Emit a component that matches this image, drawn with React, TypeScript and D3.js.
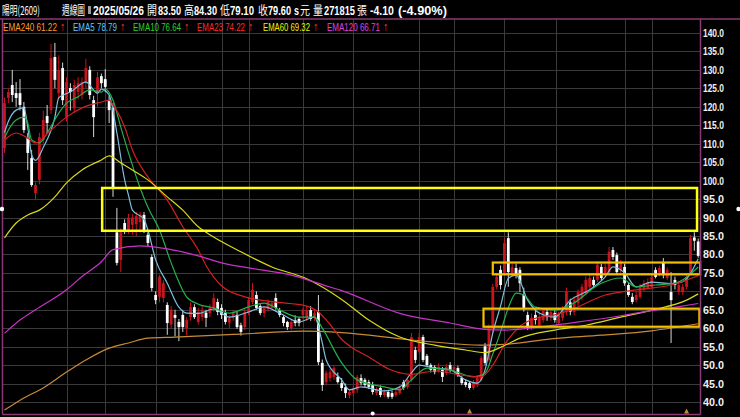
import React from 'react';
import * as d3 from 'd3';

// weekly candles, 陽明(2609)
const opens = [
  108.8, 122.4, 125.9, 123.7, 123.7, 120.0, 111.5, 106.1, 96.6, 100.2,
  111.0, 117.5, 119.1, 133.5, 123.7, 130.5, 117.2, 125.1, 119.6, 124.0,
  123.2, 126.7, 130.0, 121.8, 123.7, 128.3, 127.5, 121.8, 119.7, 86.0,
  78.5, 88.5, 86.6, 88.0, 88.2, 88.8, 90.7, 85.3, 79.3, 69.0,
  68.5, 68.2, 66.3, 61.0, 63.6, 61.7, 63.6, 60.0, 63.0, 65.7,
  61.7, 63.0, 64.2, 64.1, 65.5, 67.1, 65.5, 64.1, 61.5, 62.8,
  63.6, 60.8, 60.3, 64.1, 67.1, 69.0, 66.0, 64.1, 65.2, 65.5,
  68.2, 64.9, 63.0, 61.7, 60.0, 62.2, 62.5, 63.6, 62.8, 64.9,
  62.8, 64.4, 50.6, 45.4, 46.5, 46.8, 46.8, 45.1, 44.0, 41.9,
  42.4, 43.3, 46.5, 46.0, 45.4, 44.6, 42.4, 43.8, 41.9, 42.7,
  42.4, 41.9, 42.4, 45.4, 44.1, 46.0, 54.1, 53.6, 57.6, 52.5,
  50.0, 49.5, 48.4, 48.7, 47.9, 50.0, 48.7, 49.2, 46.5, 45.4,
  45.1, 43.8, 44.6, 46.0, 55.1, 51.4, 59.5, 71.2, 75.8, 75.0,
  84.4, 74.5, 76.3, 75.8, 69.0, 63.6, 60.3, 63.6, 60.8, 62.2,
  64.4, 62.8, 64.1, 61.4, 62.8, 64.4, 67.0, 64.4, 66.8, 68.2,
  69.5, 71.2, 73.1, 73.1, 76.6, 74.4, 75.2, 81.2, 79.8, 75.8,
  76.6, 71.7, 68.5, 67.6, 68.5, 70.4, 70.9, 71.2, 75.8, 74.4,
  77.7, 73.6, 69.8, 73.1, 69.8, 69.8, 71.2, 75.0, 84.6, 83.5
];
const highs = [
  122.5, 125.0, 130.0, 126.7, 127.5, 121.3, 112.9, 108.3, 99.5, 113.0,
  119.0, 120.5, 137.0, 137.3, 134.0, 132.0, 128.0, 126.4, 127.3, 128.0,
  128.0, 133.0, 131.0, 123.0, 129.5, 129.0, 130.2, 123.0, 121.0, 92.6,
  87.0, 89.5, 91.0, 91.0, 91.5, 91.5, 91.5, 86.0, 80.0, 70.0,
  74.5, 73.0, 67.0, 66.0, 65.0, 62.5, 65.0, 63.0, 67.0, 66.5,
  65.5, 66.0, 65.0, 66.5, 69.5, 68.0, 66.5, 65.0, 63.5, 65.0,
  64.5, 61.5, 65.5, 68.5, 72.2, 70.0, 66.5, 66.0, 67.8, 67.5,
  69.5, 65.5, 63.5, 62.0, 62.2, 63.5, 63.0, 65.5, 66.0, 66.0,
  65.0, 69.0, 51.5, 48.5, 49.0, 50.0, 48.0, 46.5, 45.0, 43.5,
  44.5, 47.3, 47.5, 46.5, 46.0, 45.5, 44.0, 44.5, 43.5, 43.3,
  43.0, 43.3, 44.5, 46.0, 46.5, 58.7, 55.0, 58.7, 58.2, 53.0,
  50.5, 50.0, 50.5, 49.5, 50.3, 50.8, 50.0, 49.8, 47.0, 46.0,
  45.6, 46.0, 47.0, 52.5, 56.0, 61.0, 72.0, 75.0, 77.0, 84.5,
  86.0, 77.5, 77.5, 76.5, 71.0, 64.5, 64.0, 65.0, 64.5, 65.5,
  65.5, 65.5, 65.0, 64.5, 66.0, 71.0, 68.0, 68.5, 70.5, 72.0,
  74.0, 74.5, 74.0, 78.0, 77.5, 77.5, 82.0, 82.0, 80.5, 78.5,
  77.5, 72.5, 69.5, 70.0, 72.0, 73.0, 73.5, 75.0, 76.5, 77.0,
  79.0, 76.5, 75.2, 74.0, 72.5, 72.0, 74.5, 85.3, 86.0, 84.3
];
const lows = [
  107.5, 121.0, 121.3, 120.0, 119.0, 112.9, 102.9, 98.3, 95.0, 99.0,
  110.0, 112.9, 118.0, 125.0, 122.0, 120.5, 116.0, 119.0, 118.5, 122.0,
  122.0, 125.0, 122.0, 111.8, 120.0, 125.0, 124.0, 115.6, 95.6, 77.0,
  75.2, 85.5, 85.5, 85.3, 85.0, 86.0, 85.8, 82.0, 70.0, 66.5,
  67.0, 67.0, 58.2, 60.0, 57.8, 56.5, 59.0, 58.0, 62.0, 62.5,
  61.0, 62.0, 60.3, 63.0, 64.5, 63.5, 62.5, 61.0, 60.0, 62.0,
  59.8, 58.0, 59.5, 63.5, 66.5, 65.0, 63.5, 63.0, 64.5, 65.0,
  65.0, 63.0, 60.5, 59.5, 59.5, 60.5, 60.5, 62.5, 62.0, 62.0,
  62.0, 50.0, 43.0, 44.5, 45.5, 46.0, 45.0, 43.0, 41.1, 41.0,
  41.5, 42.5, 44.5, 44.0, 43.5, 42.0, 41.8, 41.3, 41.3, 40.9,
  40.8, 41.3, 42.0, 43.3, 43.5, 45.5, 50.5, 53.0, 50.8, 49.5,
  48.0, 47.5, 48.0, 45.4, 47.3, 48.0, 48.0, 46.8, 44.6, 44.0,
  43.3, 43.3, 44.0, 45.5, 50.0, 51.0, 59.0, 70.5, 70.5, 74.5,
  71.2, 74.0, 73.5, 69.8, 64.5, 59.5, 59.5, 61.0, 60.0, 61.5,
  62.0, 62.0, 61.5, 61.0, 62.0, 63.5, 63.5, 63.5, 66.0, 67.5,
  69.0, 70.5, 71.0, 72.5, 73.0, 74.0, 74.5, 78.5, 74.5, 75.0,
  71.5, 68.5, 66.5, 67.0, 68.0, 70.0, 70.5, 70.8, 73.5, 74.0,
  73.5, 73.0, 56.0, 70.5, 69.0, 69.0, 70.5, 74.5, 81.0, 79.1
];
const closes = [
  121.0, 124.0, 123.2, 122.4, 120.5, 113.7, 107.5, 98.8, 98.8, 111.8,
  116.4, 115.6, 133.2, 127.3, 130.0, 121.8, 126.7, 124.0, 125.9, 126.4,
  126.7, 130.5, 123.2, 117.2, 128.0, 126.4, 125.4, 119.1, 98.0, 77.7,
  86.0, 86.6, 90.0, 90.0, 90.4, 90.7, 86.6, 83.1, 70.9, 67.6,
  74.0, 72.2, 61.4, 65.0, 62.8, 60.3, 60.3, 62.2, 65.7, 63.0,
  64.4, 65.0, 62.8, 65.7, 68.2, 64.4, 63.6, 61.7, 62.7, 64.1,
  60.3, 59.0, 64.4, 67.6, 70.4, 65.5, 64.1, 65.5, 67.1, 66.8,
  65.5, 63.6, 61.4, 60.3, 61.7, 61.4, 61.4, 64.9, 64.9, 62.5,
  64.1, 50.8, 44.6, 47.9, 48.1, 49.2, 45.4, 43.8, 42.4, 42.7,
  43.3, 46.8, 45.1, 44.6, 44.1, 42.7, 43.3, 41.9, 42.7, 41.4,
  41.4, 42.7, 43.8, 43.8, 46.0, 57.6, 51.4, 57.6, 51.4, 50.0,
  48.7, 48.1, 49.5, 46.8, 49.5, 48.7, 49.5, 47.3, 45.1, 44.6,
  43.8, 45.4, 46.5, 51.9, 50.6, 60.3, 71.2, 73.9, 71.7, 83.1,
  75.2, 76.5, 74.4, 72.2, 65.5, 60.3, 62.8, 62.2, 63.0, 64.9,
  63.0, 64.4, 62.2, 63.6, 64.9, 70.0, 64.5, 67.6, 69.8, 71.2,
  73.1, 73.6, 71.7, 77.2, 73.6, 76.6, 80.7, 79.3, 75.2, 77.9,
  72.2, 69.0, 67.1, 69.0, 71.2, 72.2, 72.5, 73.9, 73.9, 76.3,
  74.4, 75.8, 67.6, 71.7, 71.7, 71.2, 73.9, 84.4, 83.7, 79.6
];

// moving averages: [week, price]
const ema5: [number, number][] = [
  [0, 113], [1, 116], [3, 119.1], [5, 119.7], [6, 114.5], [7, 107], [8, 105.5], [10, 109],
  [13, 117.2], [14, 122.5], [17, 124], [21, 126.7], [24, 123.7], [25, 124.8], [27, 123.2],
  [29, 112.9], [31, 100.2], [32, 96], [33, 92], [36, 89.5], [37, 86.6], [39, 78.5],
  [42, 72.2], [45, 65.7], [47, 64.1], [50, 64], [54, 65.2], [58, 63], [63, 64.4],
  [67, 65.8], [71, 64.1], [76, 61.7], [80, 63], [82, 56], [83, 51.4], [87, 46],
  [89, 43.3], [92, 44.1], [98, 43], [102, 44.1], [105, 47.9], [107, 50], [111, 49.2],
  [115, 48.7], [119, 46], [122, 45.1], [124, 48.7], [126, 58.7], [128, 66], [130, 73.5],
  [132, 74.4], [135, 67.6], [138, 64.1], [142, 63], [146, 67.6], [151, 70.4], [155, 73.9],
  [157, 76.6], [160, 75], [163, 71.2], [167, 72.5], [172, 72.1], [175, 72.6], [179, 78.8]
];
const ema10: [number, number][] = [
  [0, 111.5], [1, 113.7], [3, 116.4], [5, 117.2], [6, 115.6], [7, 111], [9, 110.2],
  [11, 112.9], [14, 118.3], [16, 121], [19, 122.7], [22, 124.6], [25, 124], [26, 124.8],
  [28, 121.8], [30, 114.5], [32, 107.5], [35, 98], [37, 92.8], [40, 86.6], [43, 77.7],
  [47, 68.5], [50, 66.5], [54, 65.5], [58, 64.1], [63, 65.8], [67, 66.8], [71, 64.9],
  [76, 63], [80, 63], [82, 60], [87, 50.6], [91, 46], [98, 44.1], [102, 43.3],
  [105, 46], [109, 49.2], [115, 48.7], [121, 46.8], [124, 47.8], [126, 53], [128, 59],
  [130, 65.5], [132, 69.5], [134, 69], [137, 65.7], [142, 64.9], [146, 66.3], [154, 72.2],
  [159, 73.6], [163, 71.2], [168, 71.7], [173, 72.2], [179, 76.6]
];
const ema23: [number, number][] = [
  [0, 111], [3, 112.9], [6, 111.5], [8, 110.2], [12, 113.7], [16, 117.2], [20, 119.7],
  [25, 121.3], [27, 121.8], [28, 120.5], [31, 114.5], [33, 108.3], [37, 101], [42, 94.7],
  [46, 87.5], [50, 81.2], [52, 77], [56, 71.5], [62, 68.5], [69, 67.2], [78, 66],
  [81, 64.4], [84, 61], [87, 57], [90, 54.5], [94, 52.2], [99, 49], [105, 47.5],
  [111, 48.4], [118, 47.3], [123, 46.8], [126, 50], [129, 55.5], [133, 60.5], [137, 62.7],
  [142, 63.6], [146, 64.9], [155, 69], [163, 70.4], [172, 71.7], [179, 74.2]
];
const ema60: [number, number][] = [
  [0, 84.5], [3, 88.5], [6, 90.7], [9, 92], [13, 95.6], [16, 99.4], [20, 102.9],
  [25, 105.6], [27, 106.7], [30, 104.8], [33, 102.9], [37, 100.2], [42, 95.6], [46, 92],
  [50, 87.5], [52, 86], [61, 80.7], [69, 76.6], [78, 73.4], [87, 67.8], [94, 62.2],
  [102, 57.6], [111, 55.4], [119, 54.1], [124, 53.4], [129, 55.3], [133, 57.3],
  [142, 59.5], [150, 60.8], [159, 63], [167, 64.9], [176, 67.6], [179, 69.3]
];
const ema120: [number, number][] = [
  [0, 58.6], [4, 62.2], [8, 65], [16, 70.4], [20, 74], [25, 78], [28, 81.3], [35, 82.3],
  [42, 81.5], [50, 79.6], [56, 77.7], [65, 76], [74, 74.4], [82, 71.8], [87, 70.2],
  [102, 64], [115, 61.4], [124, 59.7], [129, 59.5], [138, 60.3], [146, 61.4],
  [155, 62.7], [163, 64.1], [172, 65.5], [179, 66.7]
];
const ema240: [number, number][] = [
  [0, 37.8], [5, 41.1], [10, 43.8], [16, 48.1], [21, 51.4], [27, 54.6], [32, 56],
  [37, 57.3], [44, 57.6], [55, 58.1], [61, 58.4], [77, 59.2], [87, 58.8], [105, 56.8],
  [124, 55.4], [129, 55.6], [141, 57.1], [154, 58.1], [167, 59.3], [179, 61.2]
];

const priceTicks = d3.range(40, 141, 5);
const gridWeeks = [16, 26, 39, 56, 63, 77, 90, 107, 116, 129, 142.3, 160, 167];

// highlighted zones: [first week, last week, top price, bottom price]
const zoneMain: [number, number, number, number] = [25.2, 178.7, 98, 86.4];
const zoneUpper: [number, number, number, number] = [126, 179.5, 77.8, 74.6];
const zoneLower: [number, number, number, number] = [123.6, 179.3, 65.3, 60.4];

const legendNames = ['EMA240', 'EMA5', 'EMA10', 'EMA23', 'EMA60', 'EMA120'];
const legendValues = ['61.22', '78.79', '76.64', '74.22', '69.32', '66.71'];

const headerTexts = [
  '陽明(2609)', '週線圖', '2025/05/26', '開', '83.50', '高', '84.30', '低', '79.10',
  '收', '79.60', 's', '元', '量', '271815', '張', '-4.10', '(-4.90%)'
];

const W = 740;
const H = 417;
const plot = { left: 2.5, right: 700.5, top: 19, bottom: 414.5 };

const UP = '#c8141c';
const DOWN = '#ffffff';
const lineColors = ['#c98a34', '#7cc0e0', '#22b04a', '#d02020', '#d8d81c', '#c832c8'];
const legendColors = ['#ff9a2a', '#5ec8f8', '#2ad22a', '#ff2a2a', '#f0f000', '#e040e0'];
const frame = '#8a3a72';
const gridColor = '#3a3a3a';

const cjk = '"Noto Sans CJK TC"';
const latin = '"Liberation Sans"';

// width of a string in a given css font, used to squeeze text to the reference's narrow face
let ctx: CanvasRenderingContext2D | null = null;
const measure = (t: string, font: string) => {
  if (!ctx) ctx = document.createElement('canvas').getContext('2d');
  if (!ctx) return t.length * 6;
  ctx.font = font;
  return ctx.measureText(t).width;
};

const Squeezed: React.FC<{
  text: string; x: number; y: number; width: number; size: number;
  family: string; bold?: boolean; fill: string;
}> = ({ text, x, y, width, size, family, bold, fill }) => {
  const natural = measure(text, `${bold ? 'bold ' : ''}${size}px ${family}`);
  const s = natural > 0 ? width / natural : 1;
  return (
    <text
      transform={`translate(${x},${y}) scale(${s},1)`}
      fontFamily={family}
      fontSize={size}
      fontWeight={bold ? 'bold' : 'normal'}
      fill={fill}
    >
      {text}
    </text>
  );
};

const App: React.FC = () => {
  const N = closes.length;
  const x = d3.scaleLinear().domain([0, N - 1]).range([4.5, 698.2]);
  const y = d3.scaleLinear().domain([40, 140]).range([402, 33]);
  const bodyW = 2.8;

  const line = d3.line<[number, number]>()
    .x(d => x(d[0]))
    .y(d => y(d[1]))
    .curve(d3.curveMonotoneX);

  const series = [ema240, ema5, ema10, ema23, ema60, ema120];

  const zone = (z: [number, number, number, number], color: string, w: number) => (
    <rect
      x={x(z[0])}
      y={y(z[2])}
      width={x(z[1]) - x(z[0])}
      height={y(z[3]) - y(z[2])}
      fill="none"
      stroke={color}
      strokeWidth={w}
    />
  );

  // header layout: x and width per piece
  const headerX = [2, 62, 93, 147, 158, 184, 194, 220, 230, 258, 268, 294, 300, 313, 324, 357, 370, 398];
  const headerW = [38, 23, 51, 10, 23, 10, 23, 10, 24, 10, 23, 5, 10, 10, 31, 10, 24, 49];

  const legendX = [3, 73, 133, 197, 263, 327];
  const legendW = [54, 44, 48, 48, 47, 53];

  return (
    <div style={{ position: 'absolute', left: 0, top: 0, width: W, height: H, background: '#000' }}>
      <svg width={W} height={H} style={{ display: 'block', background: '#000' }}>
        <defs>
          <clipPath id="plotClip">
            <rect x={plot.left} y={plot.top} width={plot.right - plot.left} height={plot.bottom - plot.top} />
          </clipPath>
        </defs>

        {/* grid */}
        <g stroke={gridColor} strokeWidth={1}>
          {priceTicks.map(p => (
            <line key={'h' + p} x1={plot.left} x2={plot.right} y1={Math.round(y(p)) + 0.5} y2={Math.round(y(p)) + 0.5} />
          ))}
          {gridWeeks.map(w => (
            <line key={'v' + w} x1={Math.round(x(w)) + 0.5} x2={Math.round(x(w)) + 0.5} y1={plot.top} y2={plot.bottom} />
          ))}
        </g>

        {/* candles */}
        <g clipPath="url(#plotClip)">
          {closes.map((c, i) => {
            const o = opens[i];
            const up = c >= o;
            const top = y(Math.max(o, c));
            const bh = Math.max(1, y(Math.min(o, c)) - top);
            return (
              <g key={i}>
                <line
                  x1={x(i)} x2={x(i)}
                  y1={y(highs[i])} y2={y(lows[i])}
                  stroke={up ? UP : '#d8d8d8'}
                  strokeWidth={1}
                />
                <rect x={x(i) - bodyW / 2} y={top} width={bodyW} height={bh} fill={up ? UP : DOWN} />
              </g>
            );
          })}
        </g>

        {/* moving averages */}
        <g clipPath="url(#plotClip)" fill="none" strokeWidth={1.2}>
          {series.map((s, k) => (
            <path key={k} d={line(s) || ''} stroke={lineColors[k]} />
          ))}
        </g>

        {/* highlighted zones */}
        {zone(zoneMain, '#ffff10', 2.5)}
        {zone(zoneUpper, '#f2c000', 2.2)}
        {zone(zoneLower, '#f2c000', 2.2)}

        {/* frame */}
        <g stroke={frame} strokeWidth={1.5} fill="none">
          <line x1={0} x2={W} y1={plot.top} y2={plot.top} />
          <line x1={plot.left} x2={plot.left} y1={plot.top} y2={plot.bottom} />
          <line x1={plot.right} x2={plot.right} y1={plot.top} y2={plot.bottom} />
          <line x1={plot.left} x2={plot.right} y1={plot.bottom} y2={plot.bottom} />
        </g>

        {/* price axis */}
        {priceTicks.map(p => (
          <Squeezed
            key={p}
            text={p.toFixed(1)}
            x={703}
            y={y(p) + 4}
            width={21}
            size={11}
            family={latin}
            bold
            fill="#f0f0f0"
          />
        ))}

        {/* cursor markers */}
        <circle cx={2} cy={y(92.3)} r={2.2} fill="#fff" />
        <circle cx={738.5} cy={y(92.3)} r={2.2} fill="#fff" />
        <circle cx={x(95)} cy={plot.bottom - 1} r={2} fill="#fff" />
        <path d={`M${x(120) - 2.5},${plot.bottom - 1}L${x(120)},${plot.bottom - 6}L${x(120) + 2.5},${plot.bottom - 1}Z`} fill="#c98a34" />
        <path d={`M${x(176) - 2.5},${plot.bottom - 1}L${x(176)},${plot.bottom - 6}L${x(176) + 2.5},${plot.bottom - 1}Z`} fill="#c98a34" />

        {/* header */}
        {headerTexts.map((t, k) => {
          const bold = !/[^\x00-\x7f]/.test(t);
          return (
            <Squeezed
              key={k}
              text={t}
              x={headerX[k]}
              y={14.5}
              width={headerW[k]}
              size={bold ? 13 : 12}
              family={bold ? latin : cjk}
              bold={bold}
              fill="#ffffff"
            />
          );
        })}
        <rect x={88} y={6} width={3} height={8} fill="#9a9a9a" />

        {/* legend */}
        {legendNames.map((n, k) => (
          <g key={n}>
            <Squeezed
              text={`${n} ${legendValues[k]}`}
              x={legendX[k]}
              y={31}
              width={legendW[k]}
              size={10.5}
              family={latin}
              fill={legendColors[k]}
            />
            <Squeezed
              text="↑"
              x={legendX[k] + legendW[k] + 3}
              y={31}
              width={5}
              size={10}
              family={'"DejaVu Sans"'}
              fill="#ff2020"
            />
          </g>
        ))}
      </svg>
    </div>
  );
};

export default App;
